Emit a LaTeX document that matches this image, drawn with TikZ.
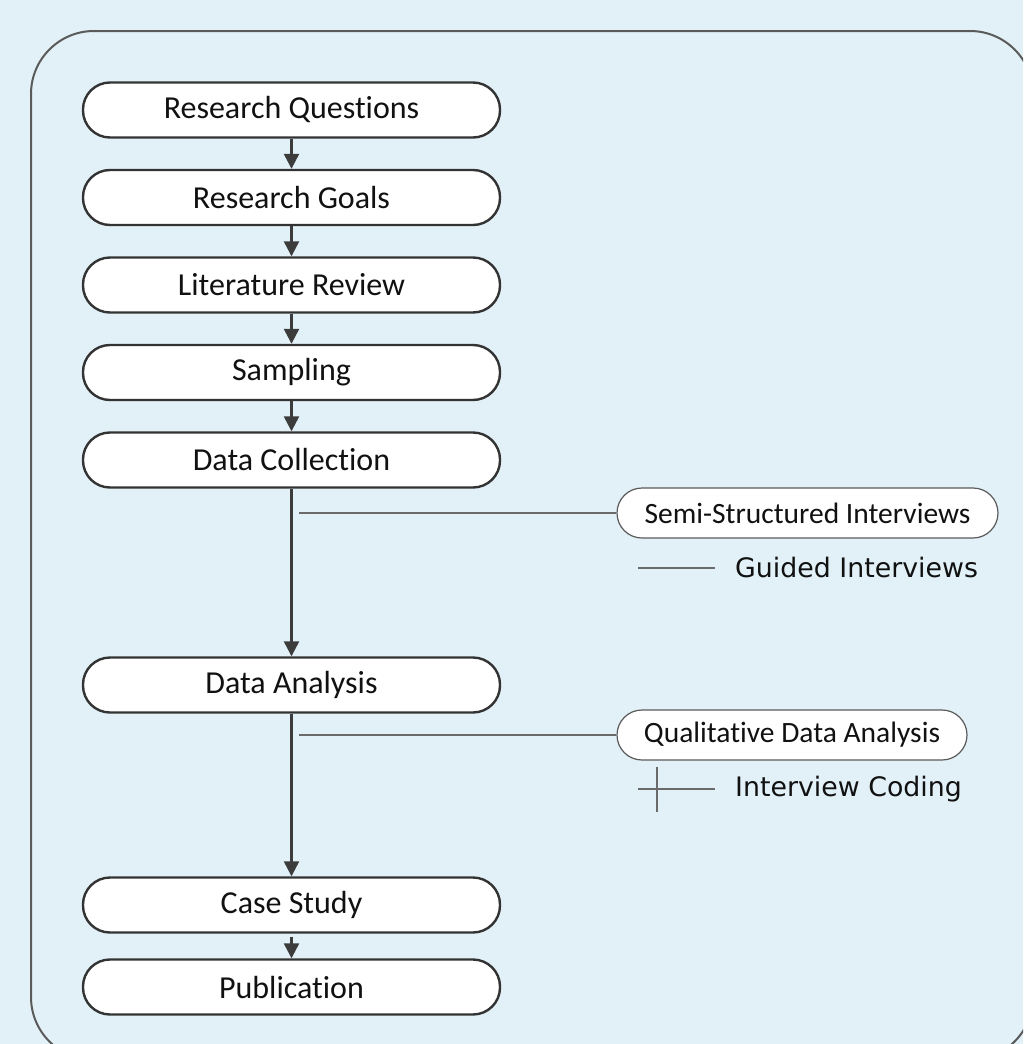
\documentclass[tikz,border=0pt]{standalone}
\usepackage{fontspec}
\setmainfont[Ligatures=NoCommon]{Carlito}
\newfontfamily\verd{DejaVu Sans}
\usetikzlibrary{arrows.meta}
\definecolor{bgblue}{HTML}{E2F1F8}
\definecolor{framegray}{HTML}{5A5A5A}
\definecolor{boxline}{HTML}{333333}
\definecolor{arrowc}{HTML}{3C3C3C}
\definecolor{thinline}{HTML}{6A6A6A}
\definecolor{txt}{HTML}{111111}
\tikzset{
  mainbox/.style={draw=boxline, line width=2.4pt, fill=white, rounded corners=27pt,
    minimum width=417pt, minimum height=55pt, inner sep=0pt, text=txt,
    font=\fontsize{32}{38}\selectfont},
  sidebox/.style={draw=framegray, line width=1.2pt, fill=white, rounded corners=25pt,
    minimum height=50pt, inner sep=0pt, text=txt,
    font=\fontsize{29.5}{34}\selectfont},
  flow/.style={draw=arrowc, line width=2.4pt, -{Triangle[length=15pt,width=15pt]}},
  branch/.style={draw=thinline, line width=1.8pt},
  leaflabel/.style={anchor=west, inner sep=0pt, text=txt, font=\verd\fontsize{26.8}{32}\selectfont}
}
\begin{document}
\begin{tikzpicture}[x=1pt,y=-1pt]
\useasboundingbox (0,0) rectangle (1023,1044);
\fill[bgblue] (0,0) rectangle (1023,1044);
\begin{scope}
\clip (0,0) rectangle (1023,1044);
\draw[framegray, line width=2pt, rounded corners=63pt] (31,31) rectangle (1033,1060);
\end{scope}
\node[mainbox] (rq) at (291.5,110) {Research Questions};
\node[mainbox] (rg) at (291.5,197.5) {Research Goals};
\node[mainbox] (lr) at (291.5,285) {Literature Review};
\node[mainbox] (sa) at (291.5,372.5) {Sampling};
\node[mainbox] (dc) at (291.5,460) {Data Collection};
\node[mainbox] (da) at (291.5,685) {Data Analysis};
\node[mainbox] (cs) at (291.5,905) {Case Study};
\node[mainbox] (pu) at (291.5,987) {Publication};
\draw[flow] (rq) -- (rg);
\draw[flow] (rg) -- (lr);
\draw[flow] (lr) -- (sa);
\draw[flow] (sa) -- (dc);
\draw[flow] (dc) -- (da);
\draw[flow] (da) -- (cs);
\draw[flow] ([yshift=-3pt]cs.south) -- (pu.north);
\node[sidebox, minimum width=381pt] (ssi) at (807.5,513) {Semi-Structured Interviews};
\node[sidebox, minimum width=350pt] (qda) at (792,735) {Qualitative Data Analysis};
\coordinate (b1) at (299,513);
\coordinate (b2) at (299,735);
\draw[branch] (b1) -- (ssi.west);
\draw[branch] (b2) -- (qda.west);
\node[leaflabel] (gi) at (735,568) {Guided Interviews};
\node[leaflabel] (ic) at (735,789) {Interview Coding};
\coordinate (g0) at (638,568);
\coordinate (c0) at (638,789);
\coordinate (v0) at (657,767);
\coordinate (v1) at (657,812);
\draw[branch] (g0) -- ([xshift=-20pt]gi.west);
\draw[branch] (c0) -- ([xshift=-20pt]ic.west);
\draw[branch, line width=1.4pt] (v0) -- (v1);
\end{tikzpicture}
\end{document}
